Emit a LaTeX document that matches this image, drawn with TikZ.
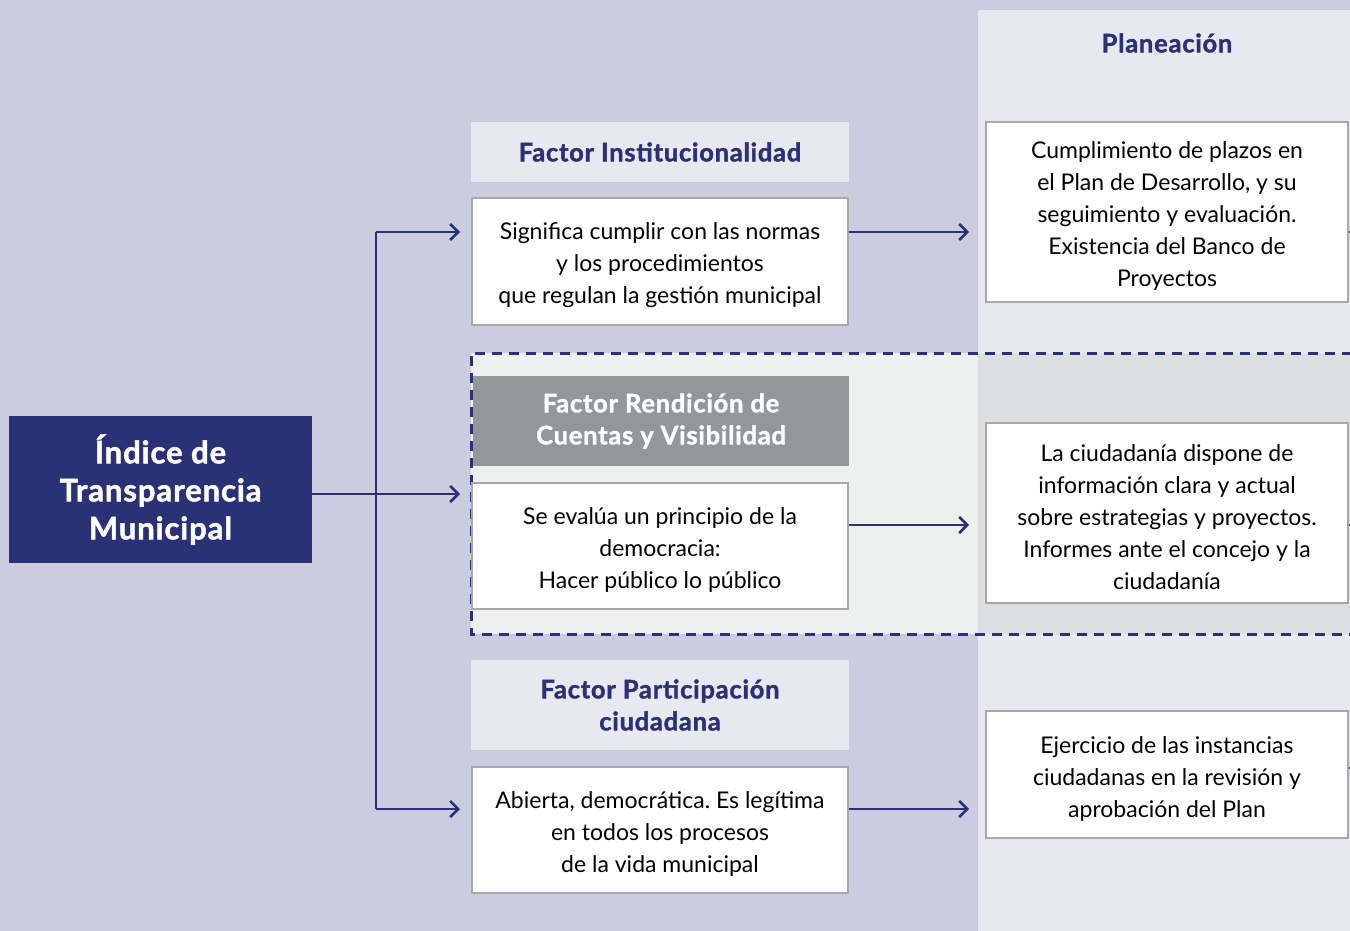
\documentclass[tikz,border=0pt]{standalone}
\usepackage{fontspec}
\setmainfont{Lato}[BoldFont={Lato Bold},BoldFeatures={FakeBold=1.6,LetterSpace=3}]
\usetikzlibrary{arrows.meta}
\frenchspacing
\definecolor{bglav}{HTML}{CBCCDF}
\definecolor{collight}{HTML}{E8E9F0}
\definecolor{navy}{HTML}{2B3175}
\definecolor{dashleft}{HTML}{EEEFEF}
\definecolor{dashright}{HTML}{DCDEE0}
\definecolor{hdrgray}{HTML}{919899}
\definecolor{boxborder}{HTML}{A8A8A8}
\begin{document}
\begin{tikzpicture}[x=1pt,y=-1pt,
  txtbox/.style={draw=boxborder,line width=1.3pt,fill=white,inner sep=0pt},
  txt/.style={inner sep=0pt,align=center,font=\fontsize{23}{32}\selectfont,text=black},
  hdrbox/.style={fill=collight,inner sep=0pt,align=center,font=\fontsize{25.5}{32}\selectfont\bfseries,text=navy},
  conn/.style={draw=navy,line width=2.6pt,-{Straight Barb[length=8pt,width=16pt,line width=2.6pt]}},
  plain/.style={draw=navy,line width=2.6pt}]
\useasboundingbox (0,0) rectangle (1350,931);
\fill[bglav] (0,0) rectangle (1350,931);
\fill[collight] (978,10) rectangle (1350,931);
\fill[dashleft] (471,353) rectangle (978,634);
\fill[dashright] (978,353) rectangle (1350,634);
\draw[navy,line width=3pt,dash pattern=on 10pt off 7pt] (1352,353) -- (471,353) -- (471,634) -- (1352,634);
\node[text=navy,font=\fontsize{25.5}{26}\selectfont\bfseries] (plan) at (1167,43) {Planeación};
% main node
\node[fill=navy,minimum width=303pt,minimum height=147pt,inner sep=0pt,align=center,text=white,font=\fontsize{31}{38}\selectfont\bfseries] (main) at (160.5,489.5) {Índice de\\Transparencia\\Municipal};
% headers
\node[hdrbox,minimum width=378pt,minimum height=60pt] (h1) at (660,152) {Factor Institucionalidad};
\node[hdrbox,fill=hdrgray,text=white,minimum width=376pt,minimum height=90pt] (h2) at (661,421) {Factor Rendición de\\Cuentas y Visibilidad};
\node[hdrbox,minimum width=378pt,minimum height=90pt] (h3) at (660,705) {Factor Participación\\ciudadana};
% text boxes
\node[txtbox,minimum width=376pt,minimum height=127pt] (b1) at (660,261.5) {};
\node[txt] (b1t) at ([yshift=-4pt]b1.center) {Significa cumplir con las normas\\y los procedimientos\\que regulan la gestión municipal};
\node[txtbox,minimum width=376pt,minimum height=126pt] (b2) at (660,546) {};
\node[txt] (b2t) at ([yshift=-4pt]b2.center) {Se evalúa un principio de la\\democracia:\\Hacer público lo público};
\node[txtbox,minimum width=376pt,minimum height=126pt] (b3) at (660,830) {};
\node[txt] (b3t) at ([yshift=-4pt]b3.center) {Abierta, democrática. Es legítima\\en todos los procesos\\de la vida municipal};
% right boxes
\node[txtbox,minimum width=362pt,minimum height=180pt] (r1) at (1167,212) {};
\node[txt] (r1t) at ([yshift=-4pt]r1.center) {Cumplimiento de plazos en\\el Plan de Desarrollo, y su\\seguimiento y evaluación.\\Existencia del Banco de\\Proyectos};
\node[txtbox,minimum width=362pt,minimum height=180pt] (r2) at (1167,513) {};
\node[txt] (r2t) at ([yshift=-4pt]r2.center) {La ciudadanía dispone de\\información clara y actual\\sobre estrategias y proyectos.\\Informes ante el concejo y la\\ciudadanía};
\node[txtbox,minimum width=362pt,minimum height=127pt] (r3) at (1167,774.5) {};
\node[txt] (r3t) at ([yshift=-4pt]r3.center) {Ejercicio de las instancias\\ciudadanas en la revisión y\\aprobación del Plan};
% connectors
\coordinate (jtop) at (376,232);
\coordinate (jbot) at (376,809);
\coordinate (a1) at (460,232);
\coordinate (a2) at (460,494);
\coordinate (a3) at (460,809);
\draw[plain] (jtop) -- (jbot);
\draw[conn] (jtop) -- (a1);
\draw[conn] (jbot) -- (a3);
\draw[conn] (main.east |- a2) -- (a2);
\coordinate (e1) at (969,232);
\coordinate (e2) at (969,525);
\coordinate (e3) at (969,809);
\draw[conn] (b1.east |- e1) -- (e1);
\draw[conn] (b2.east |- e2) -- (e2);
\draw[conn] (b3.east |- e3) -- (e3);
\coordinate (t1) at (1352,232);
\coordinate (t2) at (1352,525);
\coordinate (t3) at (1352,768);
\draw[plain] (r1.east |- t1) -- (t1);
\draw[plain] (r2.east |- t2) -- (t2);
\draw[plain] (r3.east |- t3) -- (t3);
\end{tikzpicture}
\end{document}
